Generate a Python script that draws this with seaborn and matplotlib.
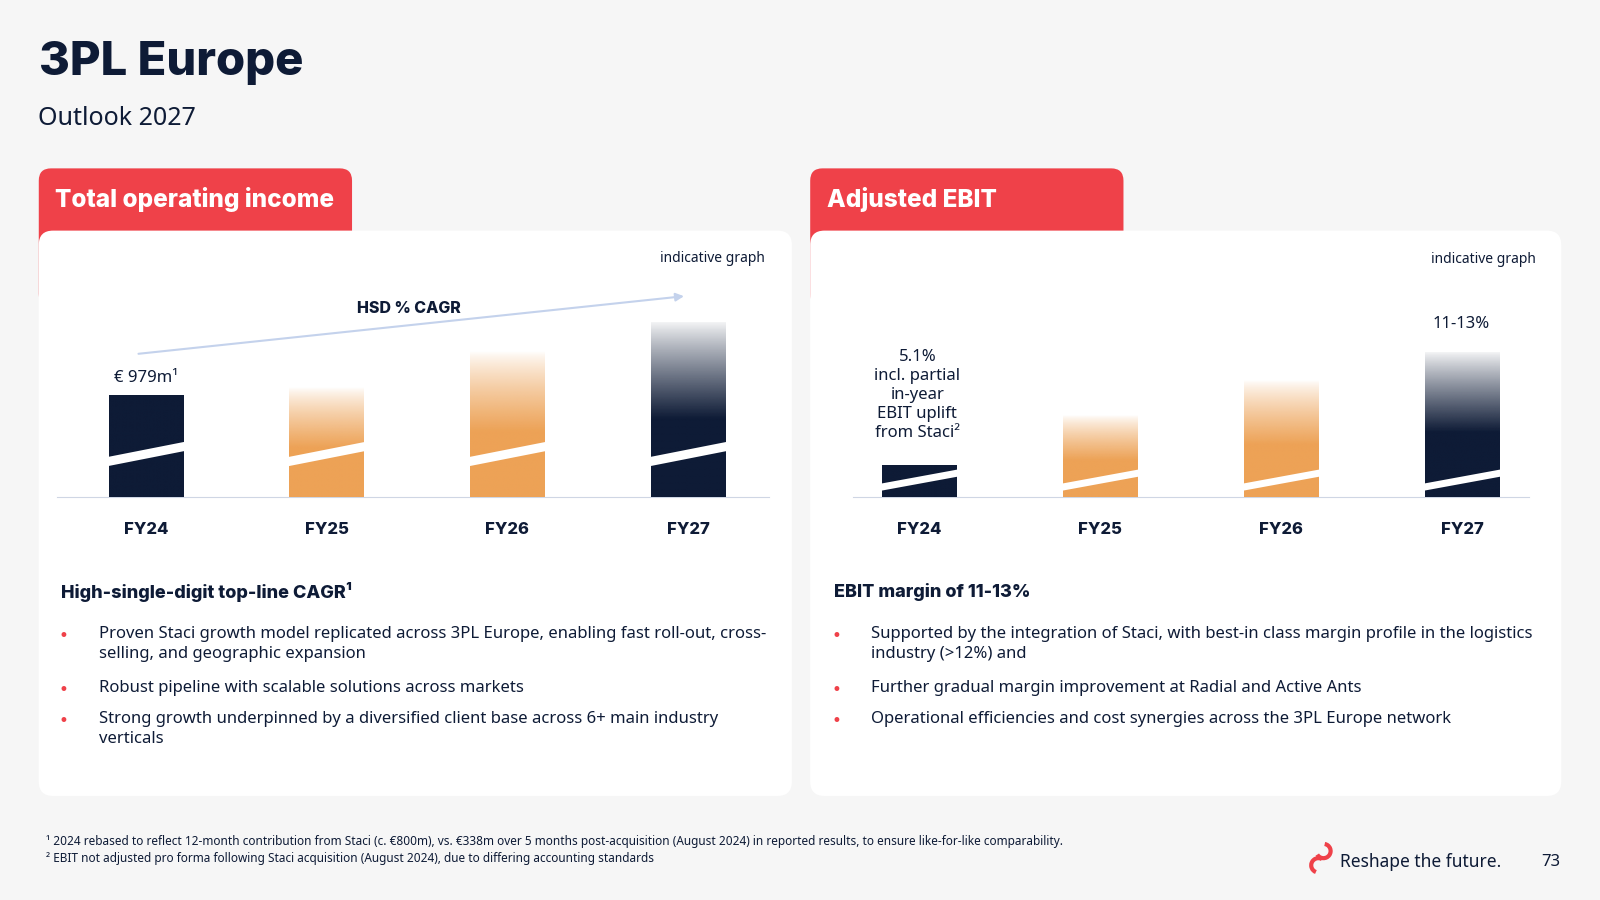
import numpy as np
import pandas as pd
import seaborn as sns
import matplotlib
matplotlib.use("Agg")
import matplotlib.pyplot as plt
from matplotlib.patches import FancyBboxPatch, Polygon, Arc
from matplotlib.colors import to_rgba

categories = ["FY24", "FY25", "FY26", "FY27"]
toi_values = [979, 1060, 1410, 1690]          # indicative, €m
ebit_values = [31, 80, 114, 142]              # indicative graph units
toi_colors = ["navy", "orange", "orange", "navy_fade"]
ebit_colors = ["navy", "orange", "orange", "navy_fade"]

NAVY = "#0e1b36"
ORANGE = "#eda256"
RED = "#ef4149"
BG = "#f6f6f6"
FONT = "Noto Sans"

W, H = 1568, 882
fig = plt.figure(figsize=(16, 9), dpi=100, facecolor=BG)
bg = fig.add_axes([0, 0, 1, 1])
bg.set_xlim(0, W); bg.set_ylim(H, 0); bg.axis("off")
bg.set_facecolor(BG)

def box(x0, y0, x1, y1, color, z, r=12):
    bg.add_patch(FancyBboxPatch((x0, y0), x1 - x0, y1 - y0,
                                boxstyle=f"round,pad=0,rounding_size={r}",
                                fc=color, ec="none", zorder=z))

# title
bg.text(38, 62, "3PL Europe", fontsize=34, fontweight="heavy", color=NAVY,
        family="Inter", va="center")
bg.text(37, 116, "Outlook 2027", fontsize=18, color=NAVY, family=FONT, va="center")

for (x0, x1, tabx1, title) in [(38, 776, 345, "Total operating income"),
                               (794, 1530, 1101, "Adjusted EBIT")]:
    box(x0, 165, tabx1, 300, RED, 1)
    box(x0, 226, x1, 780, "white", 2, r=14)
    bg.text(x0 + 16, 196, title, fontsize=17.5, fontweight="heavy", color="white",
            family="Inter", va="center", zorder=3)

def fx(px): return px / W
def fy(py): return 1 - py / H

def draw_chart(px0, px1, xl, values, kinds, ylim, stripe):
    ax = fig.add_axes([fx(px0), fy(487), fx(px1) - fx(px0), fy(280) - fy(487)])
    ax.set_zorder(5)
    ax.patch.set_alpha(0)
    df = pd.DataFrame({"cat": categories, "val": values})
    sns.barplot(data=df, x="cat", y="val", ax=ax, color=NAVY, width=0.41,
                saturation=1)
    ax.set_xlim(*xl); ax.set_ylim(0, ylim)
    for p, kind in zip(ax.patches, kinds):
        x, w, h = p.get_x(), p.get_width(), p.get_height()
        p.set_facecolor("none")
        base = NAVY if kind.startswith("navy") else ORANGE
        rgba = np.array(to_rgba(base))
        n = 200
        t = np.linspace(0, 1, n)  # bottom->top
        img = np.tile(rgba, (n, 1))
        if kind == "orange":
            a = np.clip((1 - t) / 0.55, 0, 1)
            img[:, 3] = a ** 0.8
        elif kind == "navy_fade":
            a = np.clip((1 - t) / 0.55, 0, 1)
            img[:, 3] = 0.05 + 0.95 * a ** 0.9
        ax.imshow(img[:, None, :], extent=(x, x + w, 0, h), origin="lower",
                  aspect="auto", zorder=3, interpolation="bilinear")
        s0, s1, th = stripe
        ax.add_patch(Polygon([(x - 0.01, s0), (x + w + 0.01, s1),
                              (x + w + 0.01, s1 + th), (x - 0.01, s0 + th)],
                             closed=True, fc="white", ec="none", zorder=4))
    ax.set_xlim(*xl); ax.set_ylim(0, ylim)
    for s in ["top", "right", "left"]:
        ax.spines[s].set_visible(False)
    ax.spines["bottom"].set_color("#cfd6e4")
    ax.set_xlabel(""); ax.set_ylabel(""); ax.set_yticks([])
    ax.tick_params(axis="x", length=0, pad=18)
    for lab in ax.get_xticklabels():
        lab.set_fontweight("heavy"); lab.set_fontsize(12); lab.set_color(NAVY)
        lab.set_family("Inter")
    return ax

draw_chart(56, 754, (-0.49, 3.45), toi_values, toi_colors, 2047,
           (30 / 99 * 979, 45 / 99 * 979, 9 / 99 * 979))
draw_chart(836, 1498, (-0.367, 3.367), ebit_values, ebit_colors, 207,
           (6, 20, 7))

# annotations
bg.text(698, 253, "indicative graph", fontsize=10, color=NAVY, family=FONT,
        ha="center", va="center", zorder=6)
bg.text(1454, 254, "indicative graph", fontsize=10, color=NAVY, family=FONT,
        ha="center", va="center", zorder=6)
bg.annotate("", xy=(673, 290), xytext=(133, 347),
            arrowprops=dict(arrowstyle="-|>", color="#c4d2ec", lw=1.5,
                            mutation_scale=12), zorder=6)
bg.text(401, 302, "HSD % CAGR", fontsize=11.5, fontweight="heavy", color=NAVY,
        family="Inter", ha="center", va="center", zorder=6)
bg.text(143, 370, "€ 979m¹", fontsize=12, color=NAVY, family=FONT,
        ha="center", va="center", zorder=6)
bg.text(899, 387, "5.1%\nincl. partial\nin-year\nEBIT uplift\nfrom Staci²",
        fontsize=12, color=NAVY, family=FONT, ha="center", va="center",
        linespacing=1.25, zorder=6)
bg.text(1432, 318, "11-13%", fontsize=12, color=NAVY, family=FONT,
        ha="center", va="center", zorder=6)

# text sections
bg.text(60, 580, "High-single-digit top-line CAGR¹", fontsize=13, fontweight="heavy",
        color=NAVY, family="Inter", va="center", zorder=6)
bg.text(817, 580, "EBIT margin of 11-13%", fontsize=13, fontweight="heavy",
        color=NAVY, family="Inter", va="center", zorder=6)

left_bullets = [(623, "Proven Staci growth model replicated across 3PL Europe, enabling fast roll-out, cross-\nselling, and geographic expansion"),
                (676, "Robust pipeline with scalable solutions across markets"),
                (707, "Strong growth underpinned by a diversified client base across 6+ main industry\nverticals")]
right_bullets = [(623, "Supported by the integration of Staci, with best-in class margin profile in the logistics\nindustry (>12%) and"),
                 (676, "Further gradual margin improvement at Radial and Active Ants"),
                 (707, "Operational efficiencies and cost synergies across the 3PL Europe network")]
for (bx, tx, items) in [(62, 97, left_bullets), (820, 854, right_bullets)]:
    for y, txt in items:
        bg.text(bx, y, "•", fontsize=12, color=RED, va="center", ha="center", zorder=6)
        bg.text(tx, y - 10, txt, fontsize=12, color=NAVY, family=FONT,
                va="top", linespacing=1.35, zorder=6)

bg.text(45, 825, "¹ 2024 rebased to reflect 12-month contribution from Staci (c. €800m), vs. €338m over 5 months post-acquisition (August 2024) in reported results, to ensure like-for-like comparability.",
        fontsize=8.5, color=NAVY, family=FONT, va="center")
bg.text(45, 841, "² EBIT not adjusted pro forma following Staci acquisition (August 2024), due to differing accounting standards",
        fontsize=8.5, color=NAVY, family=FONT, va="center")

# logo
bg.add_patch(Arc((1297, 834), 14, 14, theta1=-80, theta2=150, color=RED, lw=3))
bg.add_patch(Arc((1292, 848), 14, 14, theta1=110, theta2=300, color=RED, lw=3))
bg.text(1313, 845, "Reshape the future.", fontsize=12.5, color=NAVY, family=FONT,
        va="center")
bg.text(1520, 845, "73", fontsize=12, color=NAVY, family=FONT, va="center",
        ha="center")

fig.savefig("out.png", dpi=100, facecolor=BG)
